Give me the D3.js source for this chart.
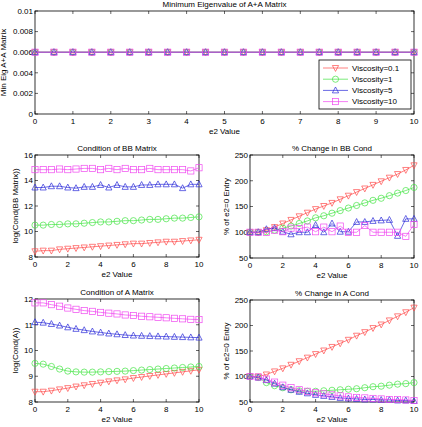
<!DOCTYPE html>
<html>
<head>
<meta charset="utf-8">
<script src="https://cdn.jsdelivr.net/npm/d3@7"></script>
<style>
  body { margin: 0; background: #fff; }
  svg { display: block; font-family: "Liberation Sans", Arial, sans-serif; }
</style>
</head>
<body>
<div id="chart"></div>
<script>
// e2 values, 0:0.5:10
const e2 = [0, 0.5, 1, 1.5, 2, 2.5, 3, 3.5, 4, 4.5, 5, 5.5, 6, 6.5, 7, 7.5, 8, 8.5, 9, 9.5, 10];

const viscosities = ["Viscosity=0.1", "Viscosity=1", "Viscosity=5", "Viscosity=10"];
const colors = ["#ff4a4a", "#44e444", "#2a2ad8", "#f048f0"];
const shapes = ["down", "circle", "up", "square"];

// Minimum eigenvalue of A+A'
const minEig01 = [0.006, 0.006, 0.006, 0.006, 0.006, 0.006, 0.006, 0.006, 0.006, 0.006, 0.006, 0.006, 0.006, 0.006, 0.006, 0.006, 0.006, 0.006, 0.006, 0.006, 0.006];
const minEig1 = [0.006, 0.006, 0.006, 0.006, 0.006, 0.006, 0.006, 0.006, 0.006, 0.006, 0.006, 0.006, 0.006, 0.006, 0.006, 0.006, 0.006, 0.006, 0.006, 0.006, 0.006];
const minEig5 = [0.006, 0.006, 0.006, 0.006, 0.006, 0.006, 0.006, 0.006, 0.006, 0.006, 0.006, 0.006, 0.006, 0.006, 0.006, 0.006, 0.006, 0.006, 0.006, 0.006, 0.006];
const minEig10 = [0.006, 0.006, 0.006, 0.006, 0.006, 0.006, 0.006, 0.006, 0.006, 0.006, 0.006, 0.006, 0.006, 0.006, 0.006, 0.006, 0.006, 0.006, 0.006, 0.006, 0.006];

// log(cond(BB))
const bb01 = [8.45, 8.5, 8.5, 8.6, 8.65, 8.7, 8.75, 8.8, 8.85, 8.9, 8.95, 9.0, 9.05, 9.05, 9.1, 9.15, 9.2, 9.2, 9.25, 9.3, 9.35];
const bb1 = [10.5, 10.5, 10.55, 10.55, 10.6, 10.6, 10.65, 10.7, 10.75, 10.75, 10.8, 10.85, 10.85, 10.9, 10.95, 10.95, 11.0, 11.05, 11.05, 11.1, 11.15];
const bb5 = [13.45, 13.45, 13.55, 13.55, 13.45, 13.4, 13.5, 13.5, 13.65, 13.45, 13.65, 13.5, 13.5, 13.65, 13.65, 13.7, 13.7, 13.7, 13.4, 13.7, 13.7];
const bb10 = [14.85, 14.85, 14.85, 14.9, 14.85, 14.9, 14.95, 14.95, 14.85, 14.95, 14.85, 14.95, 14.85, 14.85, 14.95, 14.85, 14.85, 14.85, 14.85, 14.75, 15.0];

// % change in BB cond
const bbPct01 = [100, 100, 104, 110, 117, 124, 131, 138, 145, 151, 157, 164, 171, 178, 185, 192, 199, 206, 213, 221, 230];
const bbPct1 = [100, 100, 101, 104, 108, 112, 117, 122, 128, 132, 137, 142, 147, 152, 157, 162, 166, 171, 176, 181, 187];
const bbPct5 = [100, 100, 106, 108, 101, 96, 100, 100, 114, 100, 117, 101, 101, 120, 120, 122, 123, 124, 93, 126, 126];
const bbPct10 = [100, 100, 100, 104, 101, 108, 107, 110, 101, 110, 101, 112, 100, 100, 113, 100, 100, 100, 100, 92, 115];

// log(cond(A))
const a01 = [8.4, 8.4, 8.44, 8.49, 8.54, 8.6, 8.65, 8.7, 8.75, 8.8, 8.84, 8.88, 8.93, 8.97, 9.01, 9.05, 9.09, 9.13, 9.17, 9.21, 9.25];
const a1 = [9.5, 9.47, 9.38, 9.28, 9.2, 9.17, 9.16, 9.16, 9.17, 9.18, 9.19, 9.2, 9.22, 9.24, 9.26, 9.28, 9.3, 9.32, 9.34, 9.36, 9.38];
const a5 = [11.1, 11.08, 11.03, 10.97, 10.9, 10.84, 10.79, 10.74, 10.7, 10.66, 10.63, 10.6, 10.58, 10.57, 10.56, 10.55, 10.54, 10.53, 10.52, 10.51, 10.5];
const a10 = [11.85, 11.85, 11.78, 11.72, 11.65, 11.6, 11.55, 11.52, 11.48, 11.45, 11.42, 11.38, 11.36, 11.33, 11.31, 11.29, 11.27, 11.25, 11.23, 11.21, 11.2];

// % change in A cond
const aPct01 = [100, 100, 104, 110, 116, 123, 130, 137, 144, 151, 158, 165, 172, 180, 187, 195, 202, 210, 218, 226, 235];
const aPct1 = [100, 98, 88, 82, 78, 74, 72, 71, 71, 72, 73, 74, 75, 76, 78, 80, 81, 83, 85, 86, 88];
const aPct5 = [100, 98, 93, 86, 79, 74, 70, 67, 64, 62, 60, 58, 57, 56, 55, 55, 54, 54, 53, 53, 52];
const aPct10 = [100, 99, 95, 89, 83, 78, 74, 71, 68, 66, 64, 62, 60, 59, 58, 57, 56, 55, 55, 54, 53];

const width = 422, height = 427;

let svg = d3.select("#chart")
    .append("svg")
    .attr("width", width)
    .attr("height", height)
    .attr("font-size", 8);

function marker(g, shape, color) {
    let s = 3.1;
    if (shape === "circle") {
        g.append("circle").attr("r", s).attr("fill", "none").attr("stroke", color).attr("stroke-width", 0.7);
    } else if (shape === "square") {
        g.append("rect").attr("x", -s).attr("y", -s).attr("width", 2 * s).attr("height", 2 * s)
            .attr("fill", "none").attr("stroke", color).attr("stroke-width", 0.7);
    } else {
        let d = shape === "up"
            ? `M0,${-s * 1.1}L${s},${s * 0.8}L${-s},${s * 0.8}Z`
            : `M0,${s * 1.1}L${s},${-s * 0.8}L${-s},${-s * 0.8}Z`;
        g.append("path").attr("d", d).attr("fill", "none").attr("stroke", color).attr("stroke-width", 0.7);
    }
}

function panel(opt) {
    let x = d3.scaleLinear().domain([0, 10]).range([opt.left, opt.right]);
    let y = d3.scaleLinear().domain(opt.ydomain).range([opt.bottom, opt.top]);
    let g = svg.append("g");

    // box
    g.append("rect")
        .attr("x", opt.left).attr("y", opt.top)
        .attr("width", opt.right - opt.left).attr("height", opt.bottom - opt.top)
        .attr("fill", "#fff").attr("stroke", "#000").attr("stroke-width", 0.8);

    // inward ticks on all four sides
    let tick = 3;
    g.append("g").selectAll("line").data(opt.xticks).join("line")
        .attr("x1", d => x(d)).attr("x2", d => x(d))
        .attr("y1", opt.bottom).attr("y2", opt.bottom - tick)
        .attr("stroke", "#000").attr("stroke-width", 0.6);
    g.append("g").selectAll("line").data(opt.xticks).join("line")
        .attr("x1", d => x(d)).attr("x2", d => x(d))
        .attr("y1", opt.top).attr("y2", opt.top + tick)
        .attr("stroke", "#000").attr("stroke-width", 0.6);
    g.append("g").selectAll("line").data(opt.yticks).join("line")
        .attr("x1", opt.left).attr("x2", opt.left + tick)
        .attr("y1", d => y(d)).attr("y2", d => y(d))
        .attr("stroke", "#000").attr("stroke-width", 0.6);
    g.append("g").selectAll("line").data(opt.yticks).join("line")
        .attr("x1", opt.right).attr("x2", opt.right - tick)
        .attr("y1", d => y(d)).attr("y2", d => y(d))
        .attr("stroke", "#000").attr("stroke-width", 0.6);

    // tick labels
    g.append("g").attr("text-anchor", "middle")
        .selectAll("text").data(opt.xticks).join("text")
        .attr("x", d => x(d)).attr("y", opt.bottom + 10)
        .text(d => d);
    g.append("g").attr("text-anchor", "end")
        .selectAll("text").data(opt.yticks).join("text")
        .attr("x", opt.left - 2).attr("y", d => y(d)).attr("dy", "0.35em")
        .text(opt.yfmt || (d => d));

    // series
    let line = d3.line().x((d, i) => x(e2[i])).y(d => y(d));
    opt.series.forEach((vals, k) => {
        g.append("path").datum(vals)
            .attr("d", line)
            .attr("fill", "none")
            .attr("stroke", colors[k])
            .attr("stroke-width", 0.7);
        g.append("g").selectAll("g").data(vals).join("g")
            .attr("transform", (d, i) => `translate(${x(e2[i])},${y(d)})`)
            .each(function () { marker(d3.select(this), shapes[k], colors[k]); });
    });

    // title and labels
    g.append("text").attr("text-anchor", "middle")
        .attr("x", (opt.left + opt.right) / 2).attr("y", opt.top - 4)
        .text(opt.title);
    g.append("text").attr("text-anchor", "middle")
        .attr("x", (opt.left + opt.right) / 2).attr("y", opt.bottom + 20)
        .text("e2 Value");
    g.append("text").attr("text-anchor", "middle")
        .attr("transform", `translate(${opt.ylabelX},${(opt.top + opt.bottom) / 2}) rotate(-90)`)
        .text(opt.ylabel);
    return g;
}

panel({
    left: 35, right: 414, top: 11, bottom: 114,
    ydomain: [0, 0.01], yticks: [0, 0.002, 0.004, 0.006, 0.008, 0.01],
    xticks: d3.range(0, 11, 1),
    yfmt: d => d === 0 ? "0" : String(+d.toFixed(3)),
    series: [minEig01, minEig1, minEig5, minEig10],
    title: "Minimum Eigenvalue of A+A  Matrix",
    ylabel: "Min Eig A+A  Matrix", ylabelX: 6
});

panel({
    left: 35, right: 199, top: 155, bottom: 257,
    ydomain: [8, 16], yticks: [8, 10, 12, 14, 16],
    xticks: d3.range(0, 11, 2),
    series: [bb01, bb1, bb5, bb10],
    title: "Condition of BB Matrix",
    ylabel: "log(Cond(BB Matrix))", ylabelX: 18
});

panel({
    left: 250, right: 414, top: 155, bottom: 258,
    ydomain: [50, 250], yticks: [50, 100, 150, 200, 250],
    xticks: d3.range(0, 11, 2),
    series: [bbPct01, bbPct1, bbPct5, bbPct10],
    title: "% Change in BB Cond",
    ylabel: "% of e2=0 Entry", ylabelX: 229
});

panel({
    left: 35, right: 199, top: 299, bottom: 402,
    ydomain: [8, 12], yticks: [8, 9, 10, 11, 12],
    xticks: d3.range(0, 11, 2),
    series: [a01, a1, a5, a10],
    title: "Condition of A Matrix",
    ylabel: "log(Cond(A))", ylabelX: 18
});

panel({
    left: 250, right: 414, top: 300, bottom: 402,
    ydomain: [50, 250], yticks: [50, 100, 150, 200, 250],
    xticks: d3.range(0, 11, 2),
    series: [aPct01, aPct1, aPct5, aPct10],
    title: "% Change in A Cond",
    ylabel: "% of e2=0 Entry", ylabelX: 229
});

// legend in the top panel
let legend = svg.append("g").attr("transform", "translate(319,60)");
legend.append("rect").attr("width", 92).attr("height", 49)
    .attr("fill", "#fff").attr("stroke", "#000").attr("stroke-width", 0.8);
viscosities.forEach((name, k) => {
    let row = legend.append("g").attr("transform", `translate(0,${8 + k * 11.2})`);
    row.append("line").attr("x1", 4).attr("x2", 29).attr("stroke", colors[k]).attr("stroke-width", 0.7);
    marker(row.append("g").attr("transform", "translate(16.5,0)"), shapes[k], colors[k]);
    row.append("text").attr("x", 33).attr("dy", "0.35em").text(name);
});
</script>
</body>
</html>
